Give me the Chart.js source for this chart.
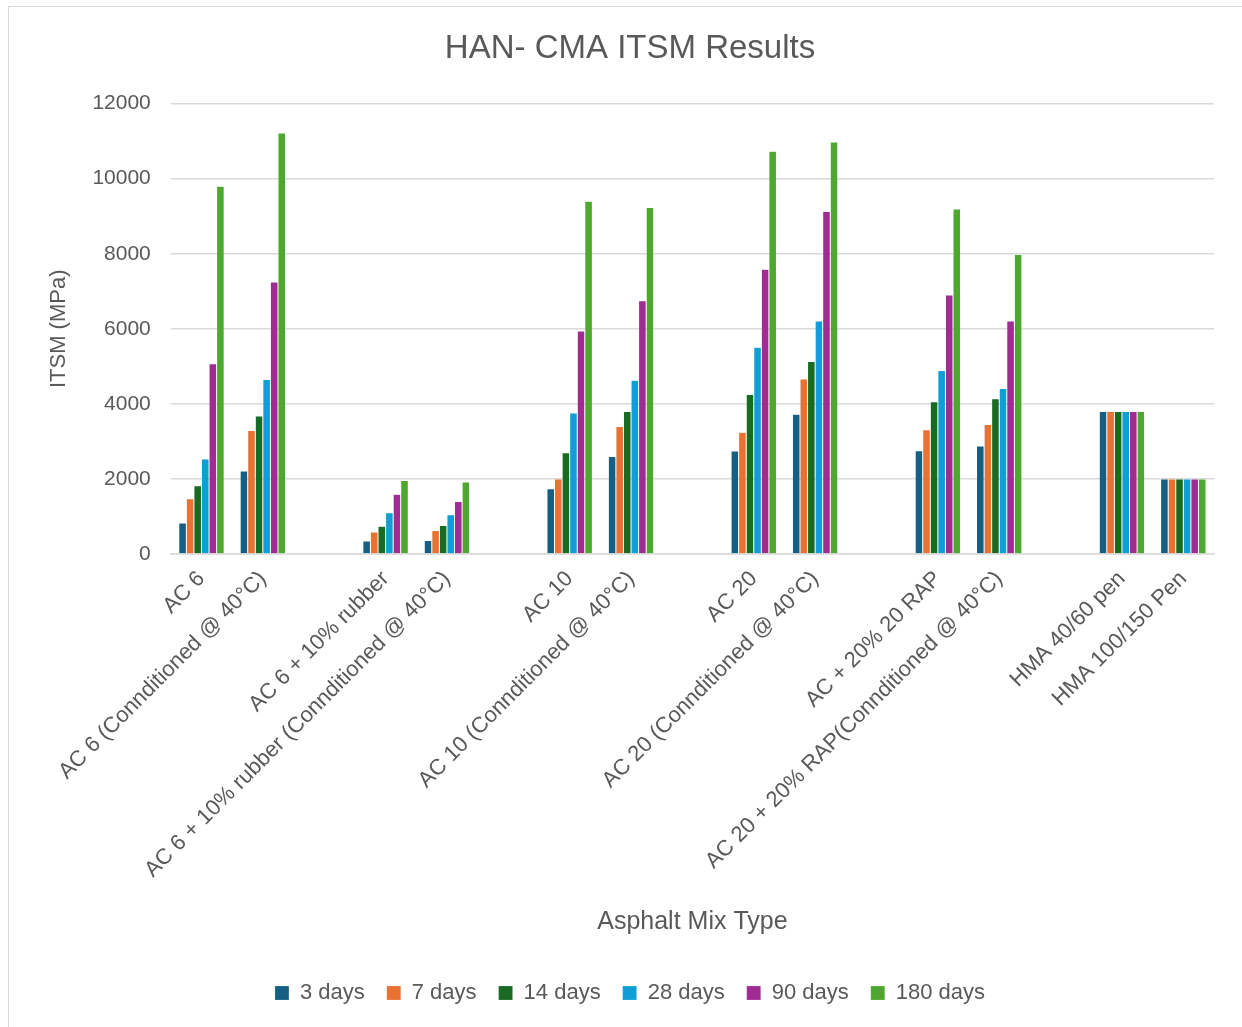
<!DOCTYPE html>
<html>
<head>
<meta charset="utf-8">
<title>HAN- CMA ITSM Results</title>
<script src="https://cdn.jsdelivr.net/npm/chart.js@4.4.1/dist/chart.umd.min.js"></script>
<style>
    html, body { margin: 0; padding: 0; background: #ffffff; overflow: hidden; }
    #wrap { position: relative; width: 1242px; height: 1027px; }
    #frame { position: absolute; left: 8px; top: 6px; width: 1300px; height: 1100px; border: 1.5px solid #D9D9D9; box-sizing: border-box; pointer-events: none; }
    canvas { position: absolute; left: 0; top: 0; }
</style>
</head>
<body>
<div id="wrap">
    <canvas id="itsmChart" width="1242" height="1027"></canvas>
    <div id="frame"></div>
</div>
<script>
// mix types, blank entries keep the gap between each pair
const mixTypes = [
    "AC 6", "AC 6 (Connditioned @ 40°C)", "",
    "AC 6 + 10% rubber", "AC 6 + 10% rubber (Connditioned @ 40°C)", "",
    "AC 10", "AC 10 (Connditioned @ 40°C)", "",
    "AC 20", "AC 20 (Connditioned @ 40°C)", "",
    "AC + 20% 20 RAP", "AC 20 + 20% RAP(Connditioned @ 40°C)", "",
    "HMA 40/60 pen", "HMA 100/150 Pen"
];

const days3   = [830, 2210, null, 350, 360, null, 1740, 2600, null, 2745, 3725, null, 2750, 2880, null, 3800, 2000];
const days7   = [1470, 3290, null, 590, 630, null, 2000, 3400, null, 3245, 4660, null, 3310, 3450, null, 3800, 2000];
const days14  = [1818, 3680, null, 740, 760, null, 2700, 3800, null, 4250, 5130, null, 4060, 4140, null, 3800, 2000];
const days28  = [2530, 4650, null, 1100, 1045, null, 3760, 4630, null, 5510, 6210, null, 4890, 4410, null, 3800, 2000];
const days90  = [5070, 7245, null, 1590, 1400, null, 5940, 6750, null, 7590, 9125, null, 6900, 6210, null, 3800, 2000];
const days180 = [9800, 11220, null, 1960, 1920, null, 9400, 9230, null, 10730, 10980, null, 9190, 7980, null, 3800, 2000];

const yTicks = [0, 2000, 4000, 6000, 8000, 10000, 12000];

const textColor = "#595959";
const gridColor = "#D9D9D9";

Chart.defaults.font.family = "'Liberation Sans', Arial, sans-serif";
Chart.defaults.color = textColor;

function serie(label, values, color) {
    return {
        label: label,
        data: values,
        backgroundColor: color,
        borderColor: "rgba(255,255,255,0.35)",
        borderWidth: 0.5,
        categoryPercentage: 0.74,
        barPercentage: 1.0
    };
}

const ctx = document.getElementById("itsmChart");

new Chart(ctx, {
    type: 'bar',
    data: {
        labels: mixTypes,
        datasets: [
            serie("3 days", days3, "#156082"),
            serie("7 days", days7, "#E97132"),
            serie("14 days", days14, "#196B24"),
            serie("28 days", days28, "#0F9ED5"),
            serie("90 days", days90, "#A02B93"),
            serie("180 days", days180, "#4EA72E")
        ]
    },
    options: {
        responsive: false,
        animation: false,
        layout: { padding: { top: 29, right: 28, left: 46, bottom: 13 } },
        plugins: {
            title: {
                display: true,
                text: "HAN- CMA ITSM Results",
                color: textColor,
                font: { size: 33, weight: 'normal' },
                padding: { top: 0, bottom: 35 }
            },
            legend: {
                position: 'bottom',
                labels: {
                    boxWidth: 14,
                    boxHeight: 14,
                    padding: 22,
                    color: textColor,
                    font: { size: 22 }
                }
            },
            tooltip: { enabled: false }
        },
        scales: {
            x: {
                grid: { display: false },
                border: { color: gridColor, width: 1.5 },
                ticks: {
                    autoSkip: false,
                    minRotation: 45,
                    maxRotation: 45,
                    padding: 4,
                    color: textColor,
                    font: { size: 22 }
                },
                title: {
                    display: true,
                    text: "Asphalt Mix Type",
                    color: textColor,
                    font: { size: 25 },
                    padding: { top: 20, bottom: 23 }
                }
            },
            y: {
                min: 0,
                max: 12000,
                afterBuildTicks: function(axis) {
                    axis.ticks = yTicks.map(function(v) { return { value: v }; });
                },
                grid: { color: gridColor, lineWidth: 1.5, drawTicks: false },
                border: { display: false },
                ticks: {
                    padding: 20,
                    color: textColor,
                    font: { size: 21 },
                    callback: function(value) { return String(value); }
                },
                title: {
                    display: true,
                    text: "ITSM (MPa)",
                    color: textColor,
                    font: { size: 22 },
                    padding: { top: 0, bottom: 0 }
                }
            }
        }
    }
});
</script>
</body>
</html>
